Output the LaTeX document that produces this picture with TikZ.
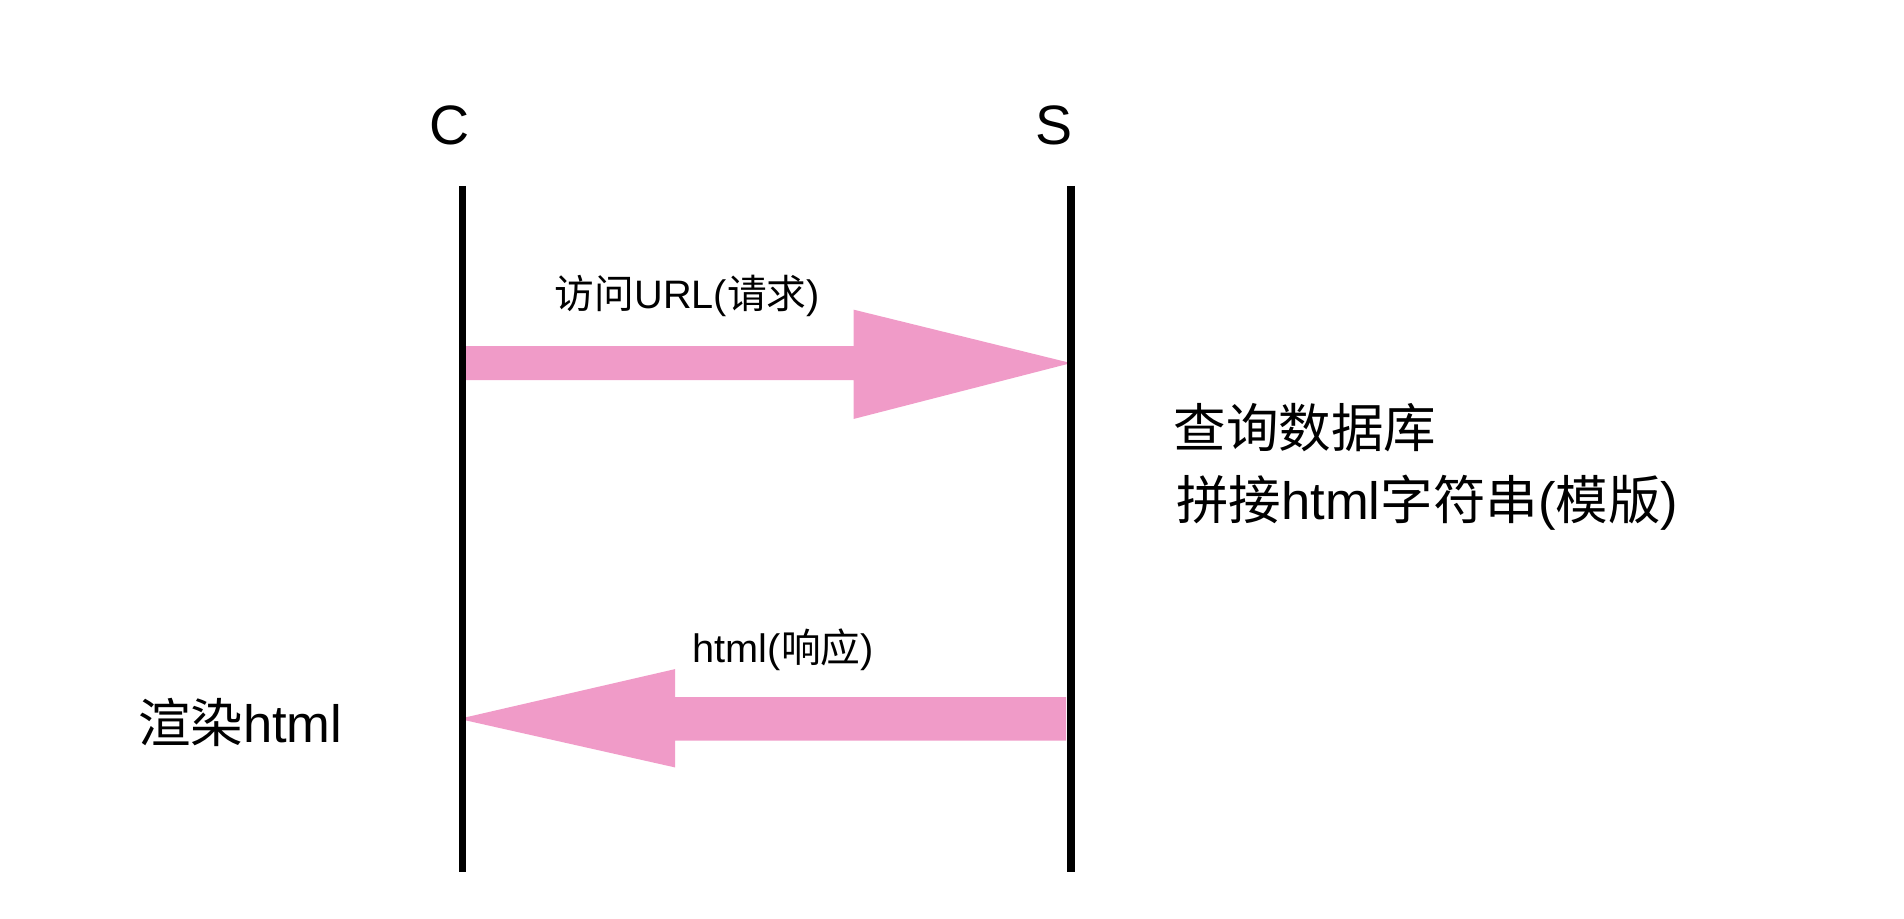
\documentclass[tikz,border=0pt]{standalone}
\usepackage{fontspec}
\setmainfont{Liberation Sans}
\newfontfamily\cjk{Noto Sans CJK SC}
\definecolor{pk}{HTML}{F09BC8}
\begin{document}
\begin{tikzpicture}[x=0.01cm,y=-0.01cm,
  life/.style={line width=0.06cm,black},
  big/.style={font=\fontsize{12.3}{14}\selectfont,inner sep=0pt},
  small/.style={font=\fontsize{9.3}{11}\selectfont,inner sep=0pt},
  head/.style={font=\fontsize{13}{15}\selectfont}]
\useasboundingbox (0,0) rectangle (1568,756);
\node[head] (C) at (370,103) {C};
\node[head] (S) at (868,103) {S};
\coordinate (ct) at (381,153); \coordinate (cb) at (381,718);
\coordinate (st) at (882,153); \coordinate (sb) at (882,718);
\fill[pk] (381,285) -- (703,285) -- (703,255) -- (882,299) -- (703,345) -- (703,313) -- (381,313) -- cycle;
\fill[pk] (878,574) -- (556,574) -- (556,551) -- (378,592) -- (556,632) -- (556,610) -- (878,610) -- cycle;
\draw[life] (ct) -- (cb);
\draw[life] (st) -- (sb);
\node[small] (l1) at (566,244) {{\cjk 访问}URL({\cjk 请求})};
\node[small] (l2) at (645,535) {html({\cjk 响应})};
\node[big,anchor=west] (t1) at (966,352) {\cjk 查询数据库};
\node[big,anchor=west] (t2) at (968,414) {{\cjk 拼接}html{\cjk 字符串}({\cjk 模版})};
\node[big,anchor=west] (t3) at (113,595) {{\cjk 渲染}html};
\end{tikzpicture}
\end{document}
